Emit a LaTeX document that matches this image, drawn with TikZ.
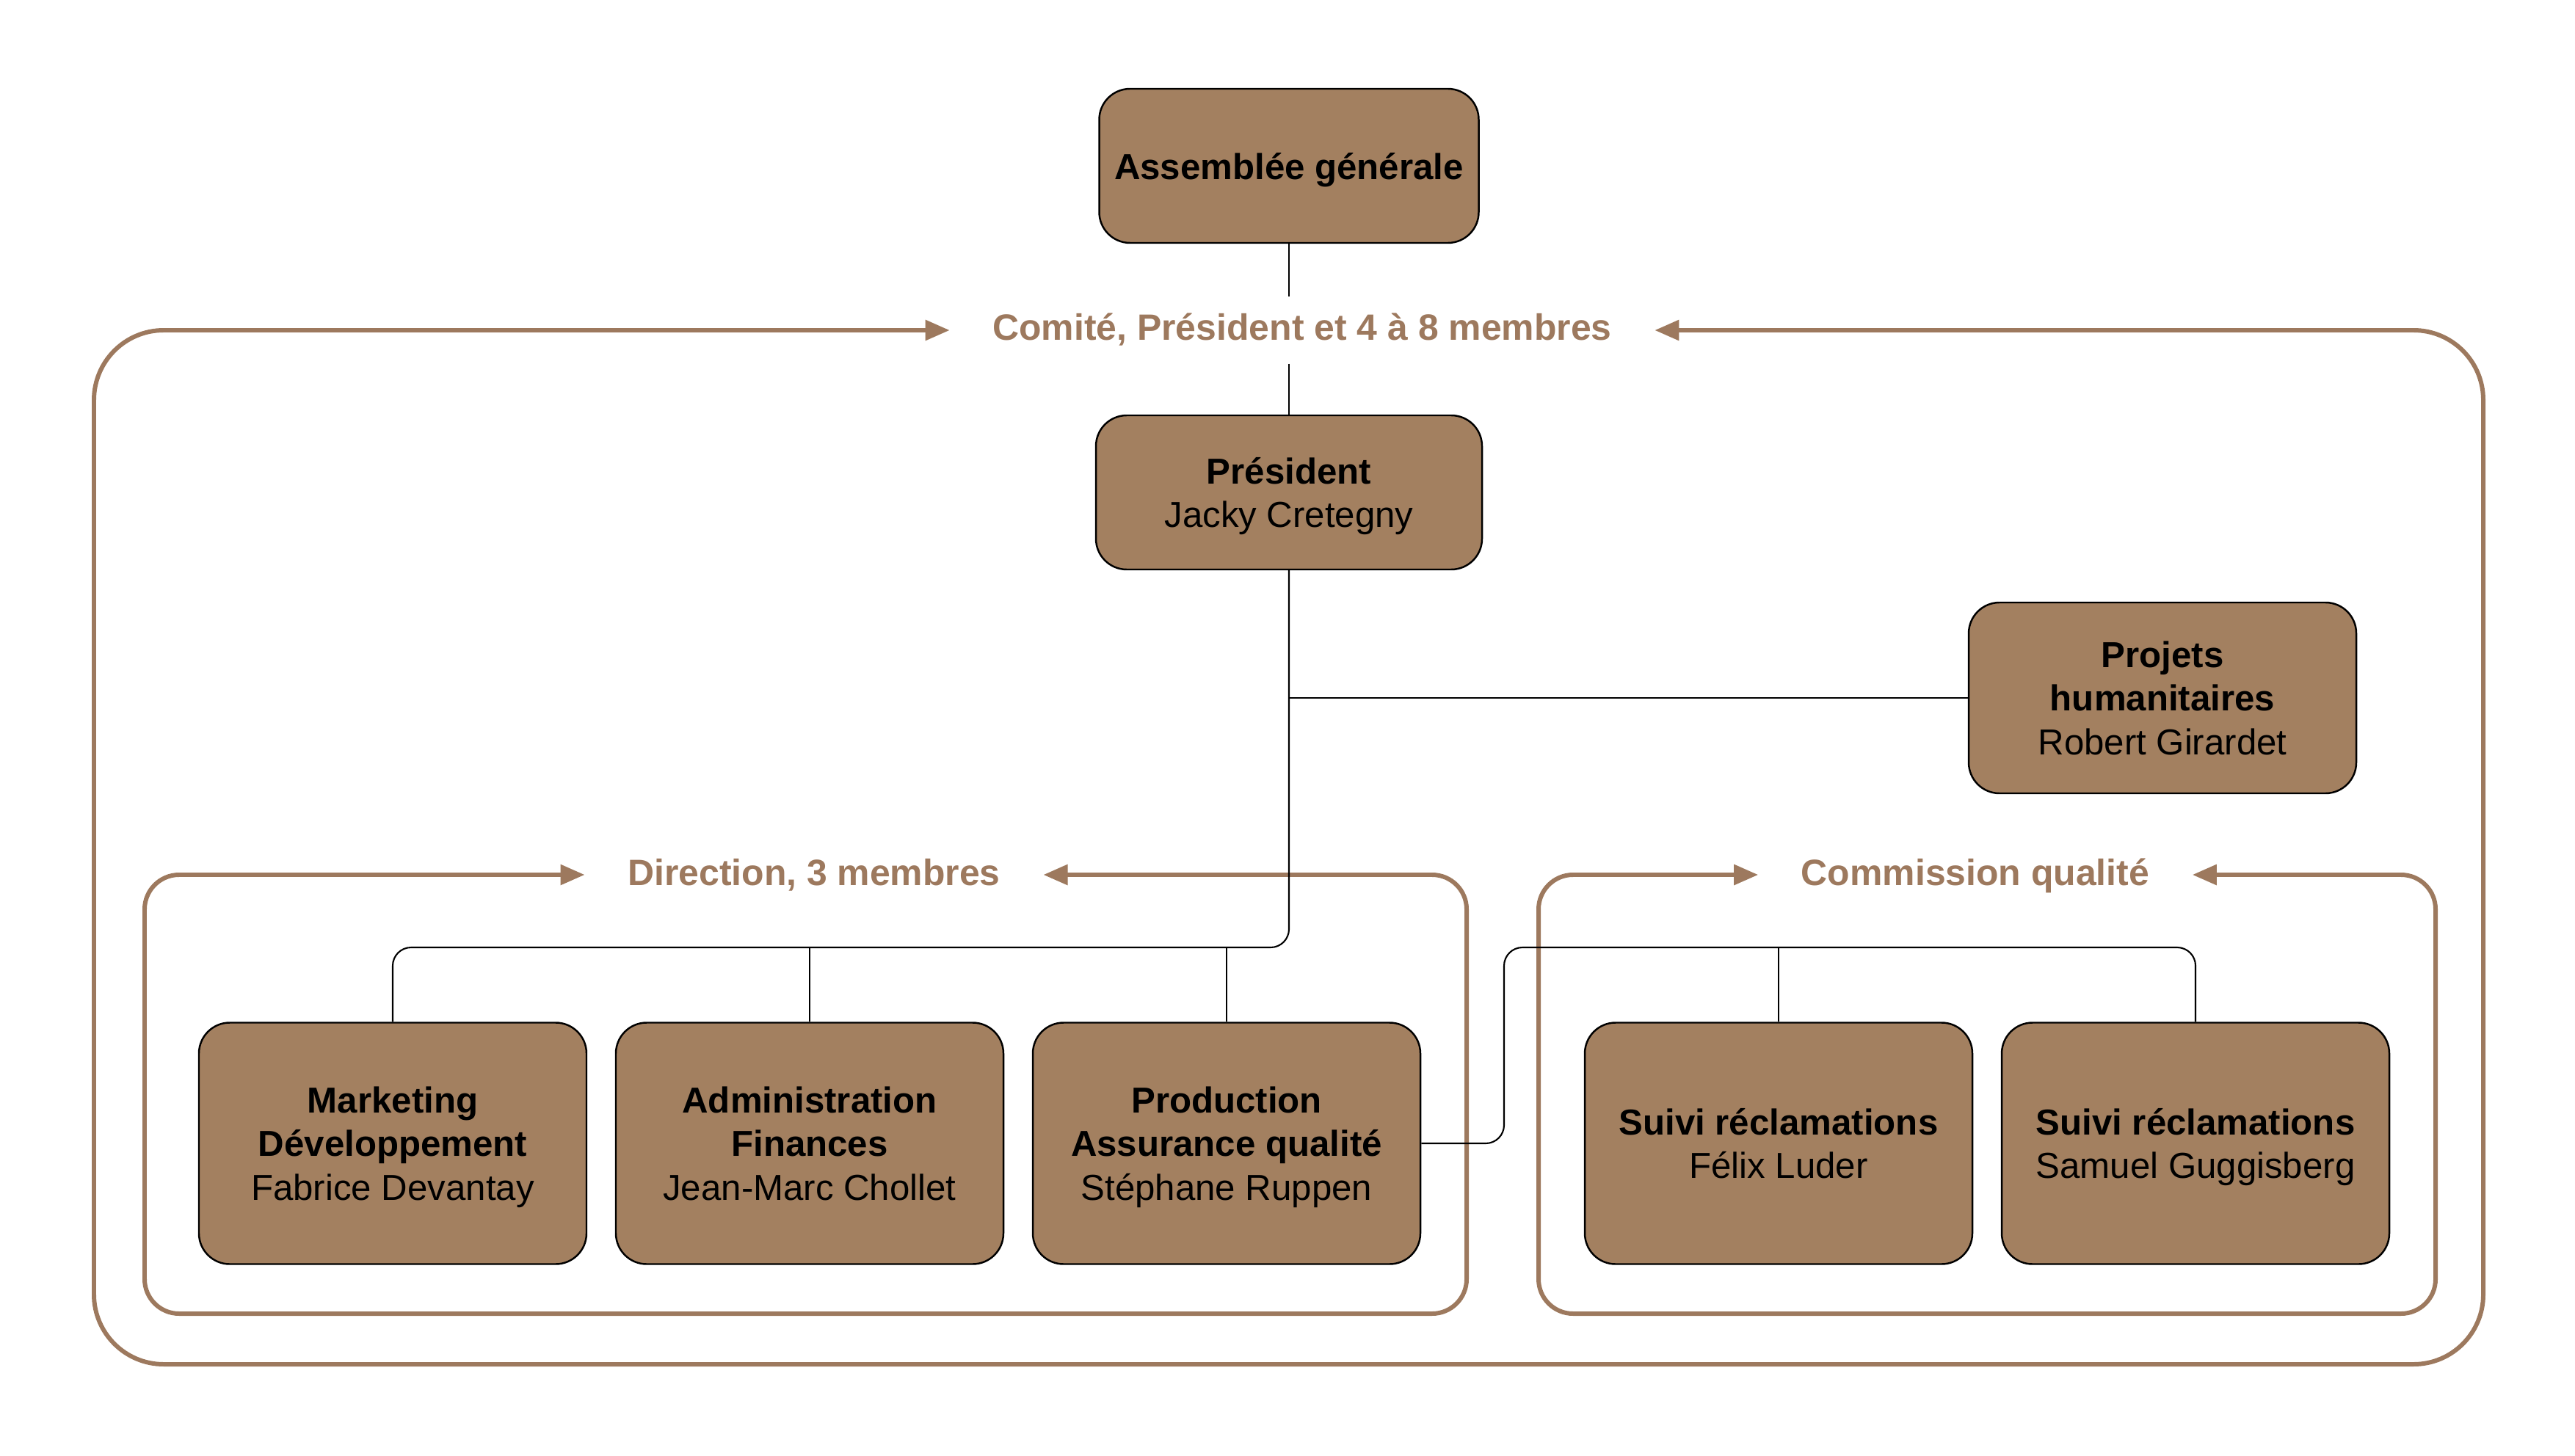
\documentclass[tikz,border=0pt]{standalone}
\usepackage{fontspec}
\setmainfont{Liberation Sans}
\usepackage{xcolor}
\usepackage{tikz}
\usetikzlibrary{arrows.meta, calc, positioning}

\definecolor{kraft}{RGB}{163,128,96}
\definecolor{umber}{RGB}{157,121,94}

\begin{document}
\begin{tikzpicture}[unit/.style={
                draw=black,
                line width=0.7pt,
                fill=kraft,
                rounded corners=0.42cm,
                align=center,
                minimum width=5.28cm,
                text depth=0pt,
                font=\fontsize{14pt}{17pt}\selectfont,
        },
        frame/.style={
                draw=umber,
                line width=1.7pt,
                arrows={Triangle[length=3.3mm,width=2.7mm]-Triangle[length=3.3mm,width=2.7mm]},
        },
        grouplabel/.style={
                text=umber,
                font=\fontsize{14.2pt}{17pt}\selectfont\bfseries,
                inner xsep=0.58cm, inner ysep=0.23cm,
                text height=0.36cm, text depth=0.08cm,
        },
        link/.style={draw=black, line width=0.6pt, rounded corners=0.25cm}]
            \useasboundingbox (0,0) rectangle (35.08,-19.84);

            % top of the tree
            \node[unit, minimum width=5.17cm, minimum height=2.1cm] (ag) at (17.56,-2.26) {\textbf{Assemblée générale}};
            \node[grouplabel] (comite) at (17.74,-4.5) {Comité, Président et 4 à 8 membres};
            \node[unit, minimum width=5.26cm, minimum height=2.1cm] (pres) at (17.56,-6.71) {\textbf{Président}\\Jacky Cretegny};
            \node[unit, minimum height=2.6cm] (proj) at (29.46,-9.51) {\textbf{Projets}\\\textbf{humanitaires}\\Robert Girardet};

            % groups
            \node[grouplabel] (dir) at (11.09,-11.92) {Direction, 3 membres};
            \node[grouplabel] (cq) at (26.91,-11.92) {Commission qualité};

            % bottom row
            \node[unit, minimum height=3.29cm] (mkt) at (5.35,-15.58) {\textbf{Marketing}\\\textbf{Développement}\\Fabrice Devantay};
            \node[unit, minimum height=3.29cm] (adm) at (11.03,-15.58) {\textbf{Administration}\\\textbf{Finances}\\Jean-Marc Chollet};
            \node[unit, minimum height=3.29cm] (prod) at (16.71,-15.58) {\textbf{Production}\\\textbf{Assurance qualité}\\Stéphane Ruppen};
            \node[unit, minimum height=3.29cm] (sv1) at (24.23,-15.58) {\textbf{Suivi réclamations}\\Félix Luder};
            \node[unit, minimum height=3.29cm] (sv2) at (29.91,-15.58) {\textbf{Suivi réclamations}\\Samuel Guggisberg};

            % frames
            \coordinate (outerSW) at (1.28,-18.59);
            \coordinate (outerNE) at (33.83,-4.5);
            \coordinate (dirSW) at (1.97,-17.90);
            \coordinate (dirNE) at (19.98,-11.92);
            \coordinate (cqSW) at (20.96,-17.90);
            \coordinate (cqNE) at (33.18,-11.92);
            \draw[frame, rounded corners=0.95cm] (comite.west) -| (outerSW) -| (outerNE) -- (comite.east);
            \draw[frame, rounded corners=0.47cm] (dir.west) -| (dirSW) -| (dirNE) -- (dir.east);
            \draw[frame, rounded corners=0.47cm] (cq.west) -| (cqSW) -| (cqNE) -- (cq.east);

            % connectors
            \coordinate (bus) at (0,-12.91);
            \coordinate (qbend) at (20.49,-12.91);
            \draw[link] (ag.south) -- (ag.south |- comite.north);
            \draw[link] (pres.north |- comite.south) -- (pres.north);
            \draw[link] (pres.south) |- (mkt.north |- bus) -- (mkt.north);
            \draw[link] (adm.north) -- (adm.north |- bus);
            \draw[link] (prod.north) -- (prod.north |- bus);
            \draw[link] (pres.south |- proj.west) -- (proj.west);
            \draw[link] (prod.east) -| (qbend) -| (sv2.north);
            \draw[link] (sv1.north) -- (sv1.north |- bus);
        \end{tikzpicture}
\end{document}
